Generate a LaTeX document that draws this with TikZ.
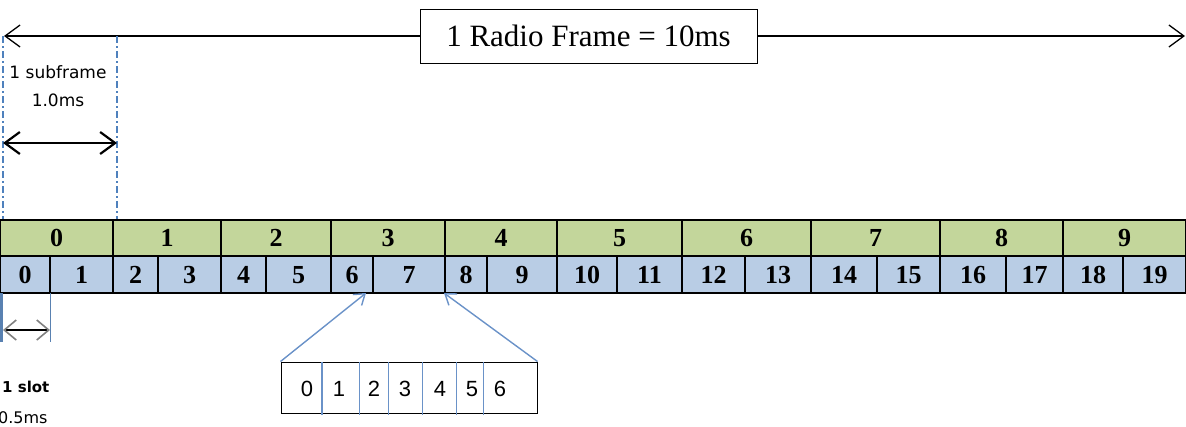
\documentclass[tikz,border=0pt]{standalone}
\usepackage{fontspec}
\setmainfont{Liberation Serif}
\newfontfamily\dvs{DejaVu Sans}
\newfontfamily\lsans{Liberation Sans}
\usetikzlibrary{arrows.meta}
\definecolor{sfgreen}{HTML}{C3D69B}
\definecolor{slblue}{HTML}{B9CDE5}
\definecolor{dashblue}{HTML}{4F81BD}
\definecolor{arrblue}{HTML}{6A92C8}
\tikzset{
  sfcell/.style={draw=black, line width=1.1pt, fill=sfgreen, inner sep=0pt, outer sep=0pt,
    minimum height=36pt, text height=17.5pt, text depth=0pt, font=\fontsize{26}{26}\selectfont\bfseries},
  slcell/.style={draw=black, line width=1.1pt, fill=slblue, inner sep=0pt, outer sep=0pt,
    minimum height=37pt, text height=17.5pt, text depth=0pt, font=\fontsize{26}{26}\selectfont\bfseries},
  symdigit/.style={inner sep=0pt, text height=16pt, text depth=0pt, font=\lsans\fontsize{22}{22}\selectfont},
  guide/.style={dashblue, line width=1.2pt, dash pattern=on 7pt off 3pt on 2pt off 3pt},
  mybarb/.tip={Straight Barb[length=15pt,width=22pt]},
}
\begin{document}
\begin{tikzpicture}[x=1pt,y=-1pt]
\useasboundingbox (0,0) rectangle (1186,426);

% title and radio frame arrow
\node[draw=black, line width=1pt, fill=white, minimum width=337pt, minimum height=54pt, inner sep=0pt,
  font=\fontsize{31}{31}\selectfont] (title) at (588.5,36) {1 Radio Frame = 10ms};
\coordinate (rfL) at (4,36);
\coordinate (rfR) at (1185,36);
\draw[line width=1.3pt, -{mybarb}] (title.west) -- (rfL);
\draw[line width=1.3pt, -{mybarb}] (title.east) -- (rfR);

% subframe guide
\coordinate (gL1) at (3,36);  \coordinate (gL2) at (3,219);
\coordinate (gR1) at (117,36); \coordinate (gR2) at (117,219);
\draw[guide] (gL1) -- (gL2);
\draw[guide] (gR1) -- (gR2);
\node[font=\dvs\fontsize{17}{17}\selectfont, inner sep=0pt] (sftxt) at (58,72) {1 subframe};
\node[font=\dvs\fontsize{17}{17}\selectfont, inner sep=0pt] (sfms) at (58,100) {1.0ms};
\coordinate (sfa) at (3,143); \coordinate (sfb) at (117,143);
\draw[line width=2.2pt, {mybarb}-{mybarb}] (sfa) -- (sfb);

% subframe row
\foreach \a/\b [count=\i from 0] in {0/113,113/221,221/331,331/445,445/557,557/682,682/811,811/940,940/1063,1063/1186}{
  \pgfmathsetmacro\w{\b-\a}
  \pgfmathsetmacro\c{(\a+\b)/2}
  \node[sfcell, minimum width=\w pt] (sf\i) at (\c,238) {\i};
}
% slot row
\foreach \a/\b [count=\i from 0] in {0/50,50/113,113/158,158/221,221/266,266/331,331/373,373/445,445/487,487/557,557/617,617/682,682/745,745/811,811/877,877/940,940/1006,1006/1063,1063/1123,1123/1186}{
  \pgfmathsetmacro\w{\b-\a}
  \pgfmathsetmacro\c{(\a+\b)/2}
  \node[slcell, minimum width=\w pt] (sl\i) at (\c,274.5) {\i};
}
% heavier boundaries
\draw[line width=2pt] (sf3.north west) -- (sl6.south west);
\draw[line width=2pt] (sf4.north west) -- (sl8.south west);
\draw[line width=2pt] (sf9.north west) -- (sl18.south west);
\draw[line width=2pt] (sl15.north west) -- (sl15.south west);

% slot guide
\coordinate (s1a) at (1.5,293); \coordinate (s1b) at (1.5,342);
\coordinate (s2a) at (50,293);  \coordinate (s2b) at (50,342);
\draw[dashblue!80!gray, line width=2.2pt] (s1a) -- (s1b);
\draw[dashblue!80!gray, line width=1pt] (s2a) -- (s2b);
\coordinate (sa) at (3,330); \coordinate (sb) at (50,330);
\draw[line width=1.6pt, {Straight Barb[length=12pt,width=20pt,color=gray]}-{Straight Barb[length=12pt,width=20pt,color=gray]}] (sa) -- (sb);
\node[font=\dvs\bfseries\fontsize{15}{15}\selectfont, anchor=west, inner sep=0pt] (slottxt) at (2,387) {1 slot};
\node[font=\dvs\fontsize{16}{16}\selectfont, anchor=west, inner sep=0pt] (slotms) at (-2,418) {0.5ms};

% symbol box
\node[draw=black, line width=1pt, minimum width=256pt, minimum height=51pt, inner sep=0pt] (sym) at (409,387.5) {};
\foreach \x in {359,388,422,456,483}{
  \draw[arrblue, line width=1pt] (\x,362) -- (\x,415);
}
\draw[arrblue, line width=2pt] (322,362) -- (322,415);
\foreach \x [count=\i from 0] in {307,339,374,405,440,472,500}{
  \node[symdigit] (d\i) at (\x,388) {\i};
}
\coordinate (t1) at (366,293);
\coordinate (t2) at (444,293);
\draw[arrblue, line width=1.4pt, -{Straight Barb[length=10pt,width=14pt]}] (sym.north west) -- (t1);
\draw[arrblue, line width=1.4pt, -{Straight Barb[length=10pt,width=14pt]}] (sym.north east) -- (t2);
\end{tikzpicture}
\end{document}
